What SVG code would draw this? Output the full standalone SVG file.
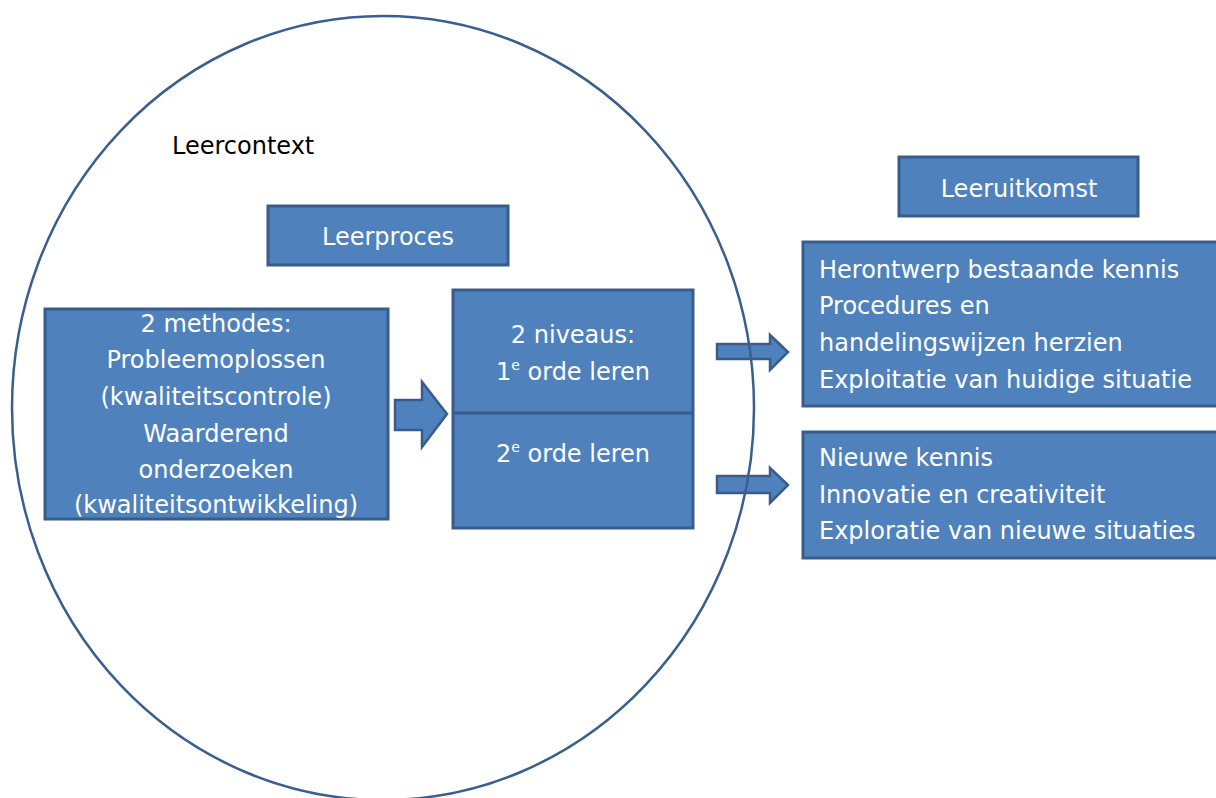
<svg xmlns="http://www.w3.org/2000/svg" width="1216" height="798" viewBox="0 0 1216 798">
  <style>
    .box { fill: #4F81BD; stroke: #385D8A; stroke-width: 3; }
    .arrow { fill: #4F81BD; stroke: #385D8A; stroke-width: 2.5; stroke-linejoin: miter; }
    .ctx { fill: none; stroke: #3A5F8E; stroke-width: 2.5; }
    text { font-family: "DejaVu Sans", "Liberation Sans", sans-serif; font-size: 24px; }
    .w { fill: #FFFFFF; }
    .c { text-anchor: middle; }
    .sup { font-size: 14px; }
  </style>
  <rect width="1216" height="798" fill="#FFFFFF"/>

  <!-- block arrows -->
  <g id="connectors">
    <polygon class="arrow" points="395,400 422,400 422,382 447,414 422,447 422,430 395,430"/>
    <polygon class="arrow" points="717,344 770,344 770,335 788,352 770,370 770,359 717,359"/>
    <polygon class="arrow" points="717,476 770,476 770,468 788,485 770,503 770,493 717,493"/>
  </g>

  <!-- learning context boundary -->
  <g id="leercontext">
    <ellipse class="ctx" cx="383" cy="408" rx="371" ry="392"/>
    <text x="172" y="154" fill="#000000">Leercontext</text>
  </g>

  <g id="leerproces">
    <rect class="box" x="268" y="206" width="240" height="59"/>
    <text class="w c" x="388" y="245">Leerproces</text>
  </g>

  <g id="methodes">
    <rect class="box" x="45" y="309" width="343" height="210"/>
    <text class="w c" x="216" y="332">2 methodes:</text>
    <text class="w c" x="216" y="368">Probleemoplossen</text>
    <text class="w c" x="216" y="405">(kwaliteitscontrole)</text>
    <text class="w c" x="216" y="442">Waarderend</text>
    <text class="w c" x="216" y="478">onderzoeken</text>
    <text class="w c" x="216" y="513">(kwaliteitsontwikkeling)</text>
  </g>

  <g id="niveaus">
    <rect class="box" x="453" y="290" width="240" height="238"/>
    <line x1="453" y1="413" x2="693" y2="413" stroke="#385D8A" stroke-width="3"/>
    <text class="w c" x="573" y="343">2 niveaus:</text>
    <text class="w c" x="573" y="380">1<tspan class="sup" dy="-10">e</tspan><tspan dy="10"> orde leren</tspan></text>
    <text class="w c" x="573" y="462">2<tspan class="sup" dy="-10">e</tspan><tspan dy="10"> orde leren</tspan></text>
  </g>

  <g id="leeruitkomst">
    <rect class="box" x="899" y="157" width="239" height="59"/>
    <text class="w c" x="1019" y="197">Leeruitkomst</text>
  </g>

  <g id="uitkomst-1e-orde">
    <rect class="box" x="803" y="242" width="430" height="164"/>
    <text class="w" x="819" y="278">Herontwerp bestaande kennis</text>
    <text class="w" x="819" y="314">Procedures en</text>
    <text class="w" x="819" y="351">handelingswijzen herzien</text>
    <text class="w" x="819" y="388">Exploitatie van huidige situatie</text>
  </g>

  <g id="uitkomst-2e-orde">
    <rect class="box" x="803" y="432" width="430" height="126"/>
    <text class="w" x="819" y="466">Nieuwe kennis</text>
    <text class="w" x="819" y="503">Innovatie en creativiteit</text>
    <text class="w" x="819" y="539">Exploratie van nieuwe situaties</text>
  </g>
</svg>
